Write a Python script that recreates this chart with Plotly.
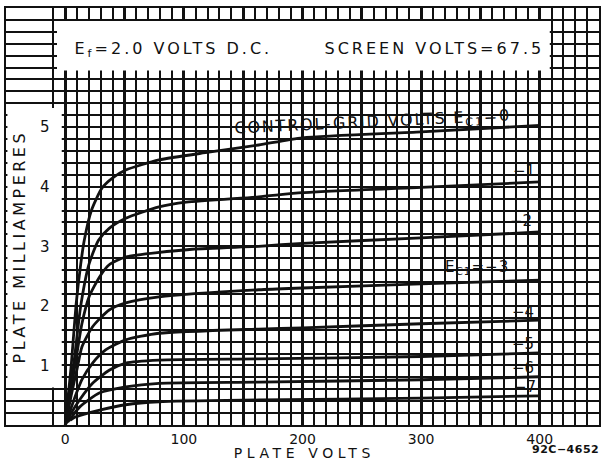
import json
import plotly.graph_objects as go

# ---- data ----
grid_volts = [0, -1, -2, -3, -4, -5, -6, -7]

v_0 = [0, 2, 5, 9, 13, 16, 22, 31, 40, 51, 79, 121, 163, 200, 300, 400]
i_0 = [0, 0.4, 1.0, 2.0, 2.7, 3.1, 3.6, 3.98, 4.15, 4.28, 4.45, 4.58, 4.70, 4.82, 4.92, 5.03]

v_1 = [0, 3, 7, 13, 20, 28, 37, 51, 79, 102, 163, 200, 300, 400]
i_1 = [0, 0.5, 1.0, 2.0, 2.7, 3.1, 3.3, 3.47, 3.66, 3.74, 3.83, 3.90, 3.99, 4.08]

v_2 = [0, 4, 9, 14, 20, 29, 37, 51, 107, 163, 200, 300, 400]
i_2 = [0, 0.5, 1.1, 1.7, 2.15, 2.49, 2.69, 2.82, 2.95, 3.0, 3.05, 3.14, 3.24]

v_3 = [0, 5, 10, 14, 23, 37, 51, 79, 163, 200, 300, 400]
i_3 = [0, 0.5, 0.95, 1.31, 1.65, 1.93, 2.05, 2.15, 2.27, 2.30, 2.37, 2.43]

v_4 = [0, 6, 14, 23, 34, 51, 79, 163, 200, 300, 400]
i_4 = [0, 0.35, 0.76, 1.04, 1.26, 1.43, 1.54, 1.61, 1.63, 1.70, 1.76]

v_5 = [0, 5, 12, 23, 37, 51, 79, 163, 300, 400]
i_5 = [0, 0.2, 0.42, 0.70, 0.92, 1.04, 1.09, 1.11, 1.15, 1.21]

v_6 = [2, 6, 12, 29, 51, 79, 163, 300, 400]
i_6 = [0.05, 0.15, 0.30, 0.54, 0.64, 0.70, 0.72, 0.76, 0.81]

v_7 = [4, 8, 14, 29, 51, 79, 163, 300, 400]
i_7 = [0.08, 0.13, 0.17, 0.25, 0.34, 0.39, 0.42, 0.45, 0.49]

volts_series = [v_0, v_1, v_2, v_3, v_4, v_5, v_6, v_7]
amps_series = [i_0, i_1, i_2, i_3, i_4, i_5, i_6, i_7]

x_tick_vals = [-50, 0, 50, 100, 150, 200, 250, 300, 350, 400, 450]
x_tick_text = ["", "0", "", "100", "", "200", "", "300", "", "400", ""]
y_tick_vals = [1, 2, 3, 4, 5]
y_tick_text = ["1", "2", "3", "4", "5"]

curve_labels = ["CONTROL-GRID VOLTS E<sub>C1</sub>=0", "−1", "−2", "E<sub>C1</sub>=−3",
                "−4", "−5", "−6", "−7"]
label_x = [259, 387, 384, 347, 386, 386, 386, 388]
label_y = [5.07, 4.27, 3.43, 2.64, 1.90, 1.36, 0.96, 0.64]
label_angle = [-2.7, 0, 0, 0, 0, 0, 0, 0]
label_size = [16, 15, 15, 15, 15, 15, 15, 15]
label_spacing = [1.8, 0, 0, 1, 0, 0, 0, 0]

FONT = "DejaVu Sans"
INK = "#111111"

fig = go.Figure()
for g, vv, ii in zip(grid_volts, volts_series, amps_series):
    fig.add_trace(go.Scatter(x=vv, y=ii, mode="lines", name=f"Ec1={g}",
                             line=dict(color=INK, width=2.8, shape="spline", smoothing=0.6),
                             hoverinfo="skip", showlegend=False))

spacings = []
for txt, lx, ly, ang, sz, sp in zip(curve_labels, label_x, label_y, label_angle,
                                    label_size, label_spacing):
    fig.add_annotation(x=lx, y=ly, text=txt, showarrow=False, textangle=ang,
                       font=dict(family=FONT, size=sz, color=INK))
    spacings.append(sp)

# white panels covering the grid
fig.add_shape(type="rect", xref="x", yref="y", x0=-7, x1=408.5, y0=5.95, y1=6.78,
              fillcolor="white", line=dict(width=0), layer="between")
fig.add_shape(type="rect", xref="x", yref="y", x0=-48.8, x1=-3, y0=0.63, y1=5.32,
              fillcolor="white", line=dict(width=0), layer="between")

fig.add_annotation(x=91, y=6.3, text="E<sub>f</sub>=2.0 VOLTS D.C.",
                   showarrow=False, font=dict(family=FONT, size=16, color=INK))
spacings.append(3)
fig.add_annotation(x=311, y=6.32, text="SCREEN VOLTS=67.5",
                   showarrow=False, font=dict(family=FONT, size=16, color=INK))
spacings.append(3)
fig.add_annotation(x=-38.5, y=3.0, text="PLATE MILLIAMPERES", textangle=-90,
                   showarrow=False, font=dict(family=FONT, size=16, color=INK))
spacings.append(3.5)
fig.add_annotation(x=202, xref="x", y=0, yref="paper", yanchor="top", yshift=-18,
                   text="PLATE VOLTS", showarrow=False,
                   font=dict(family=FONT, size=14, color=INK))
spacings.append(4.6)
fig.add_annotation(x=1, xref="paper", xanchor="right", y=0, yref="paper", yanchor="top",
                   yshift=-16, text="<b>92C−4652</b>", showarrow=False,
                   font=dict(family=FONT, size=11, color=INK))
spacings.append(0.5)

fig.update_xaxes(range=[-50, 450], tickvals=x_tick_vals, ticktext=x_tick_text,
                 showgrid=True, gridcolor=INK, gridwidth=3,
                 minor=dict(dtick=10, showgrid=True, gridcolor=INK, gridwidth=2),
                 showline=True, mirror=True, linecolor=INK, linewidth=2,
                 zeroline=False, ticks="", ticklen=0,
                 tickfont=dict(family=FONT, size=14, color=INK), fixedrange=True)
fig.update_yaxes(range=[0, 7], tickvals=y_tick_vals, ticktext=y_tick_text,
                 showgrid=True, gridcolor=INK, gridwidth=2,
                 minor=dict(dtick=0.2, showgrid=True, gridcolor=INK, gridwidth=2),
                 showline=True, mirror=True, linecolor=INK, linewidth=2,
                 zeroline=False, ticks="", ticklabelposition="inside", ticklabelstandoff=34,
                 tickfont=dict(family=FONT, size=15, color=INK), fixedrange=True)

fig.update_layout(width=602, height=461, margin=dict(l=6, r=1, t=8, b=36),
                  paper_bgcolor="white", plot_bgcolor="white", showlegend=False)

post = (
    "document.body.style.margin='0';"
    "var sp=" + json.dumps(spacings) + ";"
    "document.querySelectorAll('g.annotation').forEach(function(g,i){"
    "var t=g.querySelector('text.annotation-text');"
    "if(t&&sp[i]){t.style.letterSpacing=sp[i]+'px';}});"
)
fig.write_html("out.html", post_script=post, config={"displayModeBar": False})
